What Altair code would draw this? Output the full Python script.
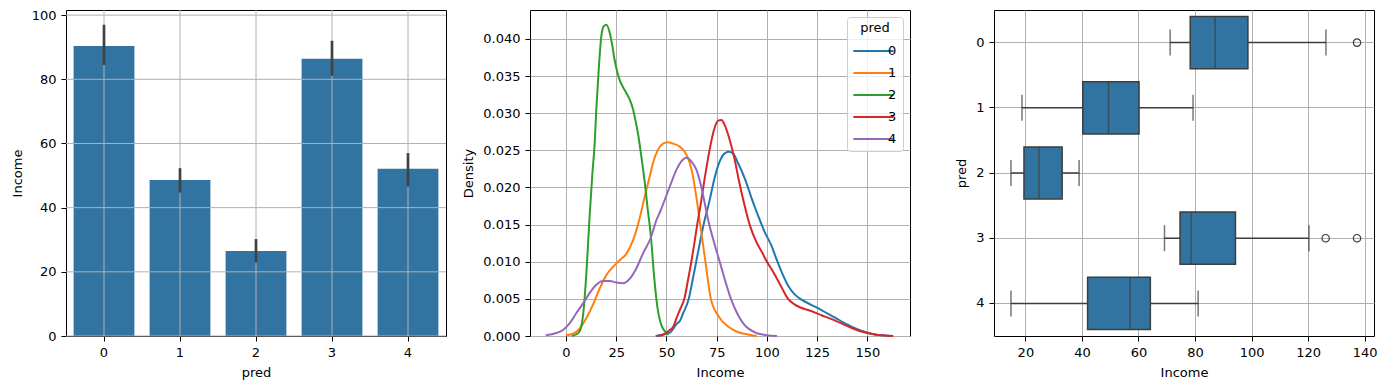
import altair as alt
import pandas as pd

FONT = "DejaVu Sans"
BAR_COLOR = "#3274a1"
EDGE = "#3d3d3d"
GRID = "#b0b0b0"

# ---------------- data ----------------
pred_cats = ["0", "1", "2", "3", "4"]
palette = ["#1f77b4", "#ff7f0e", "#2ca02c", "#d62728", "#9467bd"]

# panel 1: mean income per cluster with 95% CI
bar_income = [90.4, 48.6, 26.5, 86.4, 52.1]
ci_low = [84.5, 44.7, 22.9, 81.1, 46.6]
ci_high = [97.0, 52.3, 30.2, 92.0, 57.0]
bar_yticks = [0, 20, 40, 60, 80, 100]

# panel 2: KDE curves
kde0_x = [44.6, 48.3, 51.9, 55.0, 56.8, 58.2, 61.1, 63.0, 64.8, 66.6, 68.5, 71.5, 73.7, 76.5, 79.0, 81.0,
          83.1, 85.6, 89.3, 92.3, 95.6, 98.9, 102.2, 104.7, 107.2, 110.5, 113.8, 117.2, 122.1, 127.1,
          133.7, 140.4, 147.0, 153.7, 162.8]
kde0_d = [0.0, 0.0002, 0.0005, 0.0016, 0.0021, 0.003, 0.005, 0.0075, 0.010, 0.0125, 0.015, 0.0183, 0.021,
          0.0235, 0.0246, 0.0248, 0.0246, 0.0233, 0.021, 0.0186, 0.0162, 0.0140, 0.0122, 0.0104, 0.0087,
          0.0068, 0.0056, 0.0049, 0.0042, 0.0035, 0.0025, 0.0015, 0.0007, 0.0002, 0.0]
kde1_x = [0, 3.5, 6.8, 10.1, 13.4, 16.8, 20.1, 23.4, 26.7, 30.1, 33.4, 36.7, 39.2, 41.7, 43.3, 45.8, 48.3,
          50.8, 53.3, 56.6, 59.1, 61.6, 63.2, 65.0, 66.8, 69.4, 72.1, 76.1, 81.0, 85.8, 90.6, 95.0]
kde1_d = [0.0001, 0.0003, 0.001, 0.0024, 0.0042, 0.0064, 0.0082, 0.0093, 0.0102, 0.0111, 0.0129, 0.0159,
          0.0188, 0.0215, 0.0233, 0.0251, 0.0259, 0.0261, 0.0259, 0.0255, 0.0248, 0.0233, 0.0215, 0.0185,
          0.015, 0.010, 0.005, 0.0026, 0.0012, 0.0005, 0.0002, 0.0]
kde2_x = [3, 5, 6.8, 8.5, 10.1, 11.8, 13.1, 14.3, 15.1, 16.3, 17.6, 18.8, 20.1, 21.8, 23.0, 24.2, 25.5,
          26.7, 28.4, 30.1, 31.8, 33.4, 34.6, 35.8, 37.5, 39.2, 40.5, 42.3, 43.9, 45.5, 47.9, 51.1]
kde2_d = [0.0, 0.0002, 0.0006, 0.0028, 0.0082, 0.0163, 0.0217, 0.026, 0.0305, 0.0359, 0.0404, 0.0417,
          0.0419, 0.0408, 0.0392, 0.0372, 0.0356, 0.0345, 0.0335, 0.0327, 0.0318, 0.0305, 0.029, 0.0273,
          0.0242, 0.0207, 0.0175, 0.0133, 0.0079, 0.0039, 0.0012, 0.0002]
kde3_x = [45.5, 48.7, 51.6, 53.5, 55.0, 56.8, 58.9, 60.7, 62.4, 63.9, 65.3, 67.2, 68.9, 71.5, 73.7, 75.7,
          77.4, 79.0, 81.5, 84.0, 86.0, 88.5, 91.4, 94.5, 97.5, 100.0, 103.0, 107.2, 110.5, 113.5, 117.0,
          120.5, 127.1, 133.7, 140.4, 147.0, 153.7, 162.8]
kde3_d = [0.0, 0.0002, 0.0008, 0.0013, 0.0024, 0.0036, 0.005, 0.0075, 0.010, 0.0125, 0.015, 0.018, 0.021,
          0.0251, 0.0278, 0.029, 0.0291, 0.0284, 0.0264, 0.0237, 0.021, 0.018, 0.015, 0.0128, 0.0113,
          0.010, 0.0087, 0.0066, 0.005, 0.0043, 0.0038, 0.0035, 0.0028, 0.0021, 0.0013, 0.0006, 0.0002, 0.0]
kde4_x = [-10.1, -4.8, -1.5, 1.8, 5.2, 8.5, 11.8, 15.1, 18.4, 21.8, 25.1, 28.4, 31.7, 35.0, 38.3, 42.3,
          45.0, 47.1, 51.9, 55.0, 57.4, 59.9, 62.4, 64.9, 66.5, 71.3, 76.5, 82.1, 88.2, 93.9, 100.0, 105.0]
kde4_d = [0.0001, 0.0004, 0.0008, 0.0017, 0.0031, 0.0044, 0.0058, 0.0069, 0.0074, 0.0074, 0.0072, 0.0071,
          0.0077, 0.0091, 0.0111, 0.0133, 0.0156, 0.0169, 0.0203, 0.0224, 0.0235, 0.024, 0.0235, 0.0224,
          0.021, 0.015, 0.010, 0.005, 0.0017, 0.0005, 0.0001, 0.0]
kde_xticks = [0, 25, 50, 75, 100, 125, 150]
kde_yticks = [0.0, 0.005, 0.010, 0.015, 0.020, 0.025, 0.030, 0.035, 0.040]

# panel 3: box plot statistics
box_lo = [71.2, 18.8, 14.9, 69.2, 14.9]
box_q1 = [78.3, 40.3, 19.5, 74.7, 42.0]
box_med = [87.1, 49.4, 24.8, 78.6, 57.0]
box_q3 = [98.7, 60.2, 33.0, 94.3, 64.2]
box_hi = [126.3, 79.3, 39.0, 120.3, 81.1]
outlier_pred = ["0", "3", "3"]
outlier_income = [137.3, 126.2, 137.3]
box_xticks = [20, 40, 60, 80, 100, 120, 140]

W, H = 380, 326

# ---------------- panel 1 ----------------
bar_df = pd.DataFrame({"pred": pred_cats, "Income": bar_income, "lo": ci_low, "hi": ci_high})
xs1 = alt.Scale(domain=pred_cats, paddingInner=0.2, paddingOuter=0.1)
ys1 = alt.Scale(domain=[0, 101.6], nice=False)
xax1 = alt.Axis(title="pred", labelAngle=0, grid=False, bandPosition=0.5, values=pred_cats)
yax1 = alt.Axis(title="Income", values=bar_yticks, grid=False)

bars = alt.Chart(bar_df).mark_bar(color=BAR_COLOR).encode(
    x=alt.X("pred:N", scale=xs1, axis=xax1),
    y=alt.Y("Income:Q", scale=ys1, axis=yax1),
)
hgrid = alt.Chart(pd.DataFrame({"Income": bar_yticks})).mark_rule(color=GRID, strokeWidth=1).encode(
    y=alt.Y("Income:Q", scale=ys1, axis=yax1)
)
vgrid = alt.Chart(pd.DataFrame({"pred": pred_cats})).mark_rule(color=GRID, strokeWidth=1).encode(
    x=alt.X("pred:N", scale=xs1, axis=xax1)
)
err = alt.Chart(bar_df).mark_rule(color="#424242", strokeWidth=2.7).encode(
    x=alt.X("pred:N", scale=xs1, axis=xax1),
    y=alt.Y("lo:Q", scale=ys1, axis=yax1),
    y2="hi:Q",
)
p1 = alt.layer(bars, hgrid, vgrid, err).properties(width=W, height=H)

# ---------------- panel 2 ----------------
frames = []
for cat, xs, ds in zip(pred_cats, [kde0_x, kde1_x, kde2_x, kde3_x, kde4_x],
                       [kde0_d, kde1_d, kde2_d, kde3_d, kde4_d]):
    frames.append(pd.DataFrame({"pred": cat, "Income": xs, "Density": ds}))
kde_df = pd.concat(frames, ignore_index=True)

p2 = alt.Chart(kde_df).mark_line(strokeWidth=2, interpolate="monotone").encode(
    x=alt.X("Income:Q", scale=alt.Scale(domain=[-17.9, 171.2], nice=False, zero=False),
            axis=alt.Axis(title="Income", values=kde_xticks, grid=True)),
    y=alt.Y("Density:Q", scale=alt.Scale(domain=[0, 0.0439], nice=False),
            axis=alt.Axis(title="Density", values=kde_yticks, format=".3f", grid=True)),
    color=alt.Color("pred:N", scale=alt.Scale(domain=pred_cats, range=palette),
                    legend=alt.Legend(title="pred", orient="top-right", offset=7, padding=5,
                                      strokeColor="#cccccc", fillColor="rgba(255,255,255,0.8)",
                                      cornerRadius=3, titleFontSize=13, titleFontWeight="normal",
                                      titleFont=FONT, titleColor="black", titleAnchor="middle",
                                      titlePadding=3,
                                      labelFontSize=13, labelFont=FONT, labelColor="black",
                                      symbolType="M-1,0H2.46", symbolSize=540, symbolStrokeWidth=2,
                                      labelOffset=10, rowPadding=2)),
).properties(width=W, height=H)

# ---------------- panel 3 ----------------
box_df = pd.DataFrame({"pred": pred_cats, "lo": box_lo, "q1": box_q1, "med": box_med,
                       "q3": box_q3, "hi": box_hi})
out_df = pd.DataFrame({"pred": outlier_pred, "Income": outlier_income})
ys3 = alt.Scale(domain=pred_cats, paddingInner=0.2, paddingOuter=0.1)
xs3 = alt.Scale(domain=[8.9, 143.3], nice=False, zero=False)
xax3 = alt.Axis(title="Income", values=box_xticks, grid=True)
yax3 = alt.Axis(title="pred", grid=True, bandPosition=0.5, values=pred_cats)

whisk = alt.Chart(box_df).mark_rule(color=EDGE, strokeWidth=1.5).encode(
    x=alt.X("lo:Q", scale=xs3, axis=xax3), x2="hi:Q",
    y=alt.Y("pred:N", scale=ys3, axis=yax3),
)
cap_lo = alt.Chart(box_df).mark_tick(color=EDGE, thickness=1.5, size=26).encode(
    x=alt.X("lo:Q", scale=xs3, axis=xax3), y=alt.Y("pred:N", scale=ys3, axis=yax3)
)
cap_hi = alt.Chart(box_df).mark_tick(color=EDGE, thickness=1.5, size=26).encode(
    x=alt.X("hi:Q", scale=xs3, axis=xax3), y=alt.Y("pred:N", scale=ys3, axis=yax3)
)
box = alt.Chart(box_df).mark_bar(color=BAR_COLOR, stroke=EDGE, strokeWidth=1.5).encode(
    x=alt.X("q1:Q", scale=xs3, axis=xax3), x2="q3:Q",
    y=alt.Y("pred:N", scale=ys3, axis=yax3),
)
med = alt.Chart(box_df).mark_tick(color=EDGE, thickness=1.5, size=52).encode(
    x=alt.X("med:Q", scale=xs3, axis=xax3), y=alt.Y("pred:N", scale=ys3, axis=yax3)
)
outl = alt.Chart(out_df).mark_point(shape="circle", filled=False, color=EDGE, size=55,
                                    strokeWidth=1.2, opacity=1).encode(
    x=alt.X("Income:Q", scale=xs3, axis=xax3), y=alt.Y("pred:N", scale=ys3, axis=yax3)
)
p3 = alt.layer(whisk, cap_lo, cap_hi, box, med, outl).properties(width=W, height=H)

chart = alt.hconcat(p1, p2, p3, spacing=84, bounds="flush",
                    padding={"left": 2, "top": 0, "right": 2, "bottom": 0}).resolve_scale(
    color="independent", x="independent", y="independent"
).resolve_legend(
    color="independent"
).configure(
    font=FONT
).configure_view(
    stroke="black", strokeWidth=1
).configure_axis(
    labelFont=FONT, labelFontSize=13, labelColor="black",
    titleFont=FONT, titleFontSize=13, titleFontWeight="normal", titleColor="black",
    tickColor="black", tickSize=5, tickWidth=1, labelPadding=5, domain=False,
    gridColor=GRID, gridWidth=1, titlePadding=7,
)

chart.save("out.html", embed_options={"renderer": "svg", "actions": False})
